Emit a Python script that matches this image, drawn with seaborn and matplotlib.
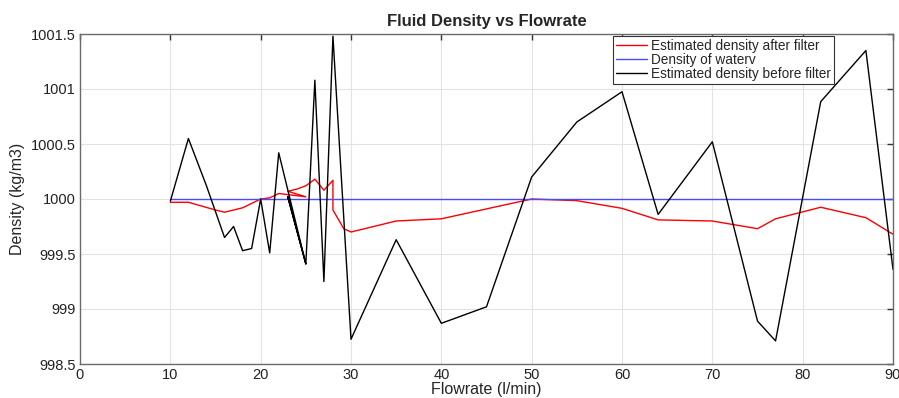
import matplotlib
matplotlib.use("Agg")
import matplotlib.pyplot as plt
import matplotlib.ticker as mticker
import pandas as pd
import seaborn as sns

# flowrate samples are not monotonic around 22-25, so keep the order
after_x = [10, 12, 15, 16, 18, 20, 21, 22, 25, 23, 24, 25, 26, 27, 28, 28, 29.2, 30,
           35, 40, 45, 50, 55, 60, 64, 70, 75, 77, 82, 87, 90]
after_rho = [999.97, 999.97, 999.90, 999.88, 999.92, 1000.0, 1000.01, 1000.05, 1000.02,
             1000.07, 1000.09, 1000.12, 1000.18, 1000.08, 1000.17, 999.90, 999.73, 999.70,
             999.80, 999.82, 999.91, 1000.0, 999.985, 999.915, 999.81, 999.80, 999.73,
             999.82, 999.925, 999.83, 999.68]

water_x = [10, 90]
water_rho = [1000.0, 1000.0]

before_x = [10, 12, 14, 16, 17, 18, 19, 20, 21, 22, 25, 23, 25, 26, 27, 28, 30,
            35, 40, 45, 50, 55, 60, 64, 70, 75, 77, 82, 87, 90]
before_rho = [999.98, 1000.55, 1000.12, 999.65, 999.75, 999.53, 999.55, 1000.0, 999.51,
              1000.42, 999.41, 1000.02, 999.41, 1001.08, 999.25, 1001.48, 998.725,
              999.63, 998.87, 999.02, 1000.2, 1000.70, 1000.975, 999.86, 1000.52,
              998.89, 998.71, 1000.885, 1001.35, 999.36]

labels = ["Estimated density after filter", "Density of waterv",
          "Estimated density before filter"]

sns.set_style("whitegrid")
plt.rcParams['font.family'] = ['Liberation Sans', 'DejaVu Sans']

fig = plt.figure(figsize=(8.99, 3.98), dpi=100)
ax = fig.add_axes([80 / 899, 34 / 398, 813 / 899, 330 / 398])

series = [(after_x, after_rho, "#ff0000"),
          (water_x, water_rho, "#4a4aff"),
          (before_x, before_rho, "#000000")]
for (xs, ys, col), lab in zip(series, labels):
    df = pd.DataFrame({"flow": xs, "rho": ys})
    sns.lineplot(data=df, x="flow", y="rho", sort=False, estimator=None,
                 color=col, linewidth=1.0, label=lab, ax=ax)

ax.set_xlim(0, 90)
ax.set_ylim(998.5, 1001.5)
ax.xaxis.set_major_locator(mticker.MultipleLocator(10))
ax.yaxis.set_major_locator(mticker.MultipleLocator(0.5))
ax.yaxis.set_major_formatter(mticker.FormatStrFormatter('%g'))

ax.grid(True, color="#e3e3e3", linewidth=0.8)
for sp in ax.spines.values():
    sp.set_visible(True)
    sp.set_color("#6b6b6b")
    sp.set_linewidth(1.0)
ax.tick_params(direction="in", length=4, width=1, color="#333333",
               top=True, right=True, labelsize=10.5, labelcolor="#222222", pad=3)

ax.set_title("Fluid Density vs Flowrate", fontsize=12, fontweight="bold", pad=6)
ax.set_xlabel("Flowrate (l/min)", fontsize=11.5, labelpad=0)
ax.set_ylabel("Density (kg/m3)", fontsize=11.5, labelpad=4)

leg = ax.legend(loc="upper right", bbox_to_anchor=(0.927, 0.993), fontsize=9.8,
                frameon=True, fancybox=False, edgecolor="#333333", framealpha=1,
                handlelength=2.3, handletextpad=0.3, borderpad=0.2, labelspacing=0.0,
                borderaxespad=0)
leg.get_frame().set_linewidth(0.8)

fig.savefig("out.png", dpi=100)
